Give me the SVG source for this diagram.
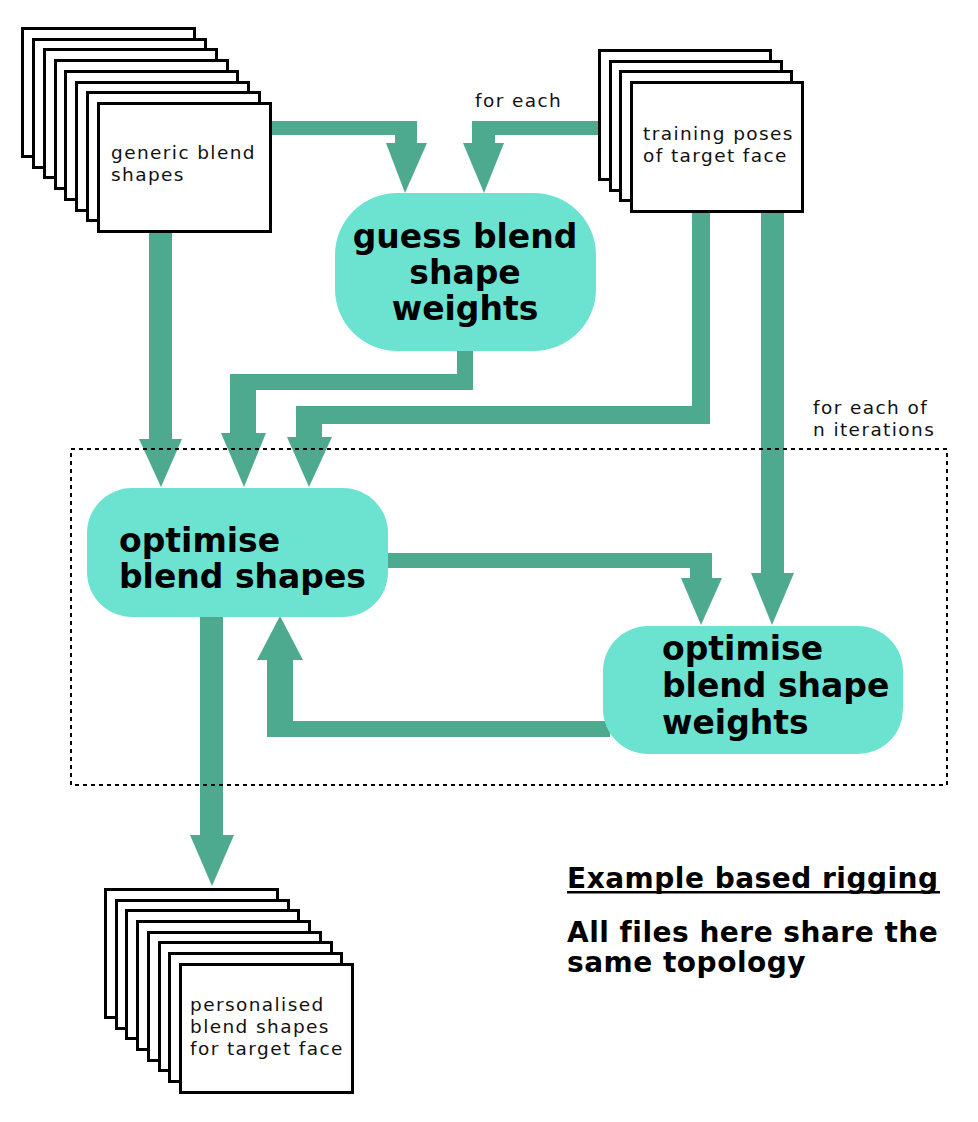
<svg xmlns="http://www.w3.org/2000/svg" width="978" height="1122" viewBox="0 0 978 1122">
<style>
.sheet{fill:#fff;stroke:#000;stroke-width:3}
.conn{fill:#4eaa8f}
.node{fill:#6ce3d1}
.small{font-family:"DejaVu Sans",sans-serif;font-size:18.5px;fill:#111;letter-spacing:1.4px}
.big{font-family:"DejaVu Sans",sans-serif;font-weight:bold;font-size:33px;fill:#000}
.note{font-family:"DejaVu Sans",sans-serif;font-weight:bold;font-size:28px;fill:#000;letter-spacing:0.5px}
</style>
<rect width="978" height="1122" fill="#fff"/>
<g id="connectors">
  <polygon class="conn" points="271,121 417,121 417,143 395,143 395,135 271,135"/>
  <polygon class="conn" points="386,143 427,143 405,193"/>
  <polygon class="conn" points="598,121 472,121 472,143 495,143 495,135 598,135"/>
  <polygon class="conn" points="463,143 504,143 484,193"/>
  <rect class="conn" x="149" y="232" width="23" height="208"/>
  <polygon class="conn" points="139,439 182,439 161,487"/>
  <polygon class="conn" points="457,350 473,350 473,390 256,390 256,434 230,434 230,374 457,374"/>
  <polygon class="conn" points="221,433 266,433 244,487"/>
  <polygon class="conn" points="692,212 710,212 710,424 322,424 322,438 296,438 296,406 692,406"/>
  <polygon class="conn" points="287,437 332,437 309,487"/>
  <rect class="conn" x="761" y="212" width="23" height="362"/>
  <polygon class="conn" points="751,573 794,573 772,625"/>
  <polygon class="conn" points="387,553 712,553 712,579 690,579 690,568 387,568"/>
  <polygon class="conn" points="681,578 722,578 701,625"/>
  <polygon class="conn" points="610,721 610,737 267,737 267,659 293,659 293,721"/>
  <polygon class="conn" points="257,660 303,660 280,616"/>
  <rect class="conn" x="200" y="615" width="23" height="221"/>
  <polygon class="conn" points="190,835 234,835 212,886"/>
</g>
<g id="generic-blend-shapes">
  <rect class="sheet" x="22.5" y="28.5" width="172" height="128"/>
  <rect class="sheet" x="33.5" y="39.5" width="172" height="128"/>
  <rect class="sheet" x="44.5" y="49.5" width="172" height="128"/>
  <rect class="sheet" x="55.5" y="60.5" width="172" height="128"/>
  <rect class="sheet" x="65.5" y="71.5" width="172" height="128"/>
  <rect class="sheet" x="76.5" y="82.5" width="172" height="128"/>
  <rect class="sheet" x="87.5" y="92.5" width="172" height="128"/>
  <rect class="sheet" x="98.5" y="103.5" width="172" height="128"/>
  <text class="small" x="111" y="159">generic blend</text>
  <text class="small" x="111" y="181">shapes</text>
</g>
<g id="training-poses">
  <rect class="sheet" x="599.5" y="50.5" width="171" height="129"/>
  <rect class="sheet" x="610.5" y="61.5" width="171" height="129"/>
  <rect class="sheet" x="620.5" y="71.5" width="171" height="129"/>
  <rect class="sheet" x="631.5" y="82.5" width="171" height="129"/>
  <text class="small" x="643" y="140">training poses</text>
  <text class="small" x="643" y="162">of target face</text>
</g>
<g id="guess-weights">
  <rect class="node" x="335" y="193" width="261" height="158" rx="62" ry="62"/>
  <text class="big" x="465" y="248" text-anchor="middle">guess blend</text>
  <text class="big" x="465" y="284" text-anchor="middle">shape</text>
  <text class="big" x="465" y="320" text-anchor="middle">weights</text>
</g>
<g id="optimise-blend-shapes">
  <rect class="node" x="87" y="488" width="301" height="129" rx="45" ry="45"/>
  <text class="big" x="119" y="552">optimise</text>
  <text class="big" x="119" y="588">blend shapes</text>
</g>
<g id="optimise-weights">
  <rect class="node" x="603" y="626" width="300" height="128" rx="45" ry="45"/>
  <text class="big" x="662" y="660">optimise</text>
  <text class="big" x="662" y="697">blend shape</text>
  <text class="big" x="662" y="734">weights</text>
</g>
<g id="personalised-blend-shapes">
  <rect class="sheet" x="105.5" y="889.5" width="172" height="128"/>
  <rect class="sheet" x="116.5" y="900.5" width="172" height="128"/>
  <rect class="sheet" x="126.5" y="910.5" width="172" height="128"/>
  <rect class="sheet" x="137.5" y="921.5" width="172" height="128"/>
  <rect class="sheet" x="148.5" y="932.5" width="172" height="128"/>
  <rect class="sheet" x="159.5" y="942.5" width="172" height="128"/>
  <rect class="sheet" x="169.5" y="953.5" width="172" height="128"/>
  <rect class="sheet" x="180.5" y="964.5" width="172" height="128"/>
  <text class="small" x="190" y="1011">personalised</text>
  <text class="small" x="190" y="1033">blend shapes</text>
  <text class="small" x="190" y="1055">for target face</text>
</g>
<g id="loop">
  <rect x="71" y="449" width="876" height="336" fill="none" stroke="#000" stroke-width="2" stroke-dasharray="4 4"/>
  <text class="small" x="813" y="414">for each of</text>
  <text class="small" x="813" y="436">n iterations</text>
</g>
<g id="labels">
  <text class="small" x="475" y="107">for each</text>
  <text class="note" x="567" y="888">Example based rigging</text>
  <rect x="567" y="891" width="373" height="2.5" fill="#000"/>
  <text class="note" x="567" y="942">All files here share the</text>
  <text class="note" x="567" y="972">same topology</text>
</g>
</svg>
